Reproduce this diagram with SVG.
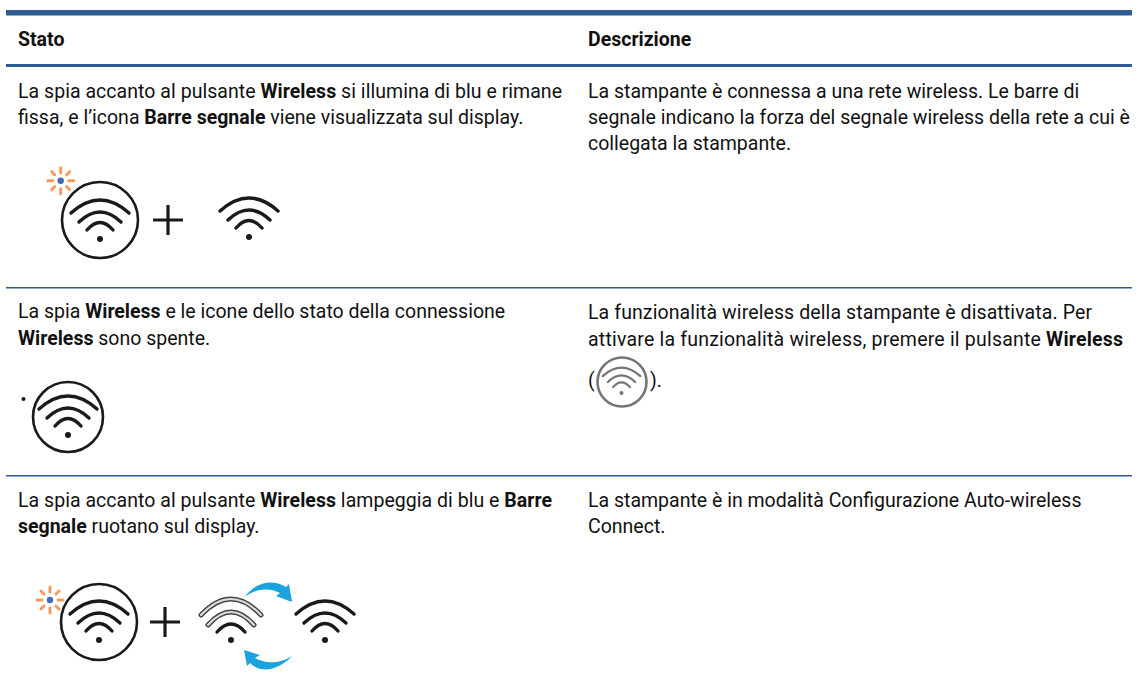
<svg xmlns="http://www.w3.org/2000/svg" xmlns:xlink="http://www.w3.org/1999/xlink" width="1138" height="690" viewBox="0 0 1138 690">
<style>
text{font-family:Roboto,"Noto Sans","Liberation Sans",sans-serif;font-size:19.5px;fill:#111}
.b{font-weight:700}
.thick{fill:#2f5c93}
.thin{fill:#2f5c93}
.w path{fill:none;stroke:#1a1a1a;stroke-width:3.4;stroke-linecap:round}
.w circle{fill:#1a1a1a}
.ring{fill:none;stroke:#1a1a1a;stroke-width:2.6}
.plus{stroke:#1a1a1a;stroke-width:3.2;fill:none}
.ray{stroke:#f79a5b;stroke-width:3;stroke-linecap:round}
.arr{fill:#1ba3dd}
</style>
<defs>
<g id="wifi" class="w">
<path d="M-29,-26Q0,-52 29,-26"/><path d="M-21,-17Q0,-37 21,-17"/><path d="M-13,-9Q0,-24 13,-9"/><circle r="3"/>
</g>
<g id="spark">
<g class="ray"><path d="M-13,0H-8M8,0H13M0,-13V-8M0,8V13M-9,-9L-6,-6M9,-9L6,-6M-9,9L-6,6M9,9L6,6"/></g>
<circle r="3.2" fill="#4468b8"/>
</g>
</defs>
<g id="rules">
<rect class="thick" x="6" y="10" width="1126" height="5.5"/>
<rect class="thin" x="6" y="64" width="1126" height="3"/>
<rect class="thin" x="6" y="287" width="1126" height="1.5"/>
<rect class="thin" x="6" y="475" width="1126" height="1.5"/>
</g>
<g id="header">
<text class="b" x="18" y="46">Stato</text>
<text class="b" x="588" y="46">Descrizione</text>
</g>
<g id="row1-stato">
<text x="18" y="98" textLength="544">La spia accanto al pulsante <tspan class="b">Wireless</tspan> si illumina di blu e rimane</text>
<text x="18" y="124">fissa, e l’icona <tspan class="b">Barre segnale</tspan> viene visualizzata sul display.</text>
<use xlink:href="#spark" x="60.7" y="180.7"/>
<circle class="ring" cx="100" cy="220" r="38"/>
<use xlink:href="#wifi" x="100" y="239"/>
<path class="plus" d="M153,220H183M168,205V235"/>
<use xlink:href="#wifi" x="249" y="237"/>
</g>
<g id="row1-descrizione">
<text x="588" y="98">La stampante è connessa a una rete wireless. Le barre di</text>
<text x="588" y="124">segnale indicano la forza del segnale wireless della rete a cui è</text>
<text x="588" y="150">collegata la stampante.</text>
</g>
<g id="row2-stato">
<text x="18" y="318">La spia <tspan class="b">Wireless</tspan> e le icone dello stato della connessione</text>
<text x="18" y="345"><tspan class="b">Wireless</tspan> sono spente.</text>
<circle cx="23.5" cy="399" r="2" fill="#1a1a1a"/>
<circle class="ring" cx="68" cy="417" r="35"/>
<use xlink:href="#wifi" x="68" y="435"/>
</g>
<g id="row2-descrizione">
<text x="588" y="319" textLength="504">La funzionalità wireless della stampante è disattivata. Per</text>
<text x="588" y="346" textLength="535">attivare la funzionalità wireless, premere il pulsante <tspan class="b">Wireless</tspan></text>
<text x="588" y="387">(</text>
<text x="650" y="387">).</text>
<g opacity="0.6">
<circle class="ring" cx="622" cy="382" r="24.5"/>
<use xlink:href="#wifi" transform="translate(621.5,393) scale(.65)"/>
</g>
</g>
<g id="row3-stato">
<text x="18" y="507" textLength="534">La spia accanto al pulsante <tspan class="b">Wireless</tspan> lampeggia di blu e <tspan class="b">Barre</tspan></text>
<text x="18" y="533"><tspan class="b">segnale</tspan> ruotano sul display.</text>
<use xlink:href="#spark" x="50" y="600"/>
<circle class="ring" cx="99" cy="622" r="38"/>
<use xlink:href="#wifi" x="99" y="640"/>
<path class="plus" d="M150,622H180M165,607V637"/>
<g class="w" transform="translate(231,640)">
<path d="M-14,-8Q0,-24 14,-8"/><circle r="3"/>
<path style="stroke-width:5;stroke:#444" d="M-23,-15Q0,-41 23,-15M-30,-25Q0,-57 30,-25"/>
<path style="stroke-width:2.2;stroke:#ddd" d="M-23,-15Q0,-41 23,-15M-30,-25Q0,-57 30,-25"/>
</g>
<use xlink:href="#wifi" x="325" y="640"/>
<path class="arr" d="M245,597C252,585 270,577 286,587L289,584L292,602L276,596L280,593C268,587 255,589 245,597Z"/>
<path class="arr" d="M292,656C280,669 262,675 250,663L247,666L244,650L260,655L255,658C264,663 278,665 292,656Z"/>
</g>
<g id="row3-descrizione">
<text x="588" y="507">La stampante è in modalità Configurazione Auto-wireless</text>
<text x="588" y="533">Connect.</text>
</g>
</svg>
